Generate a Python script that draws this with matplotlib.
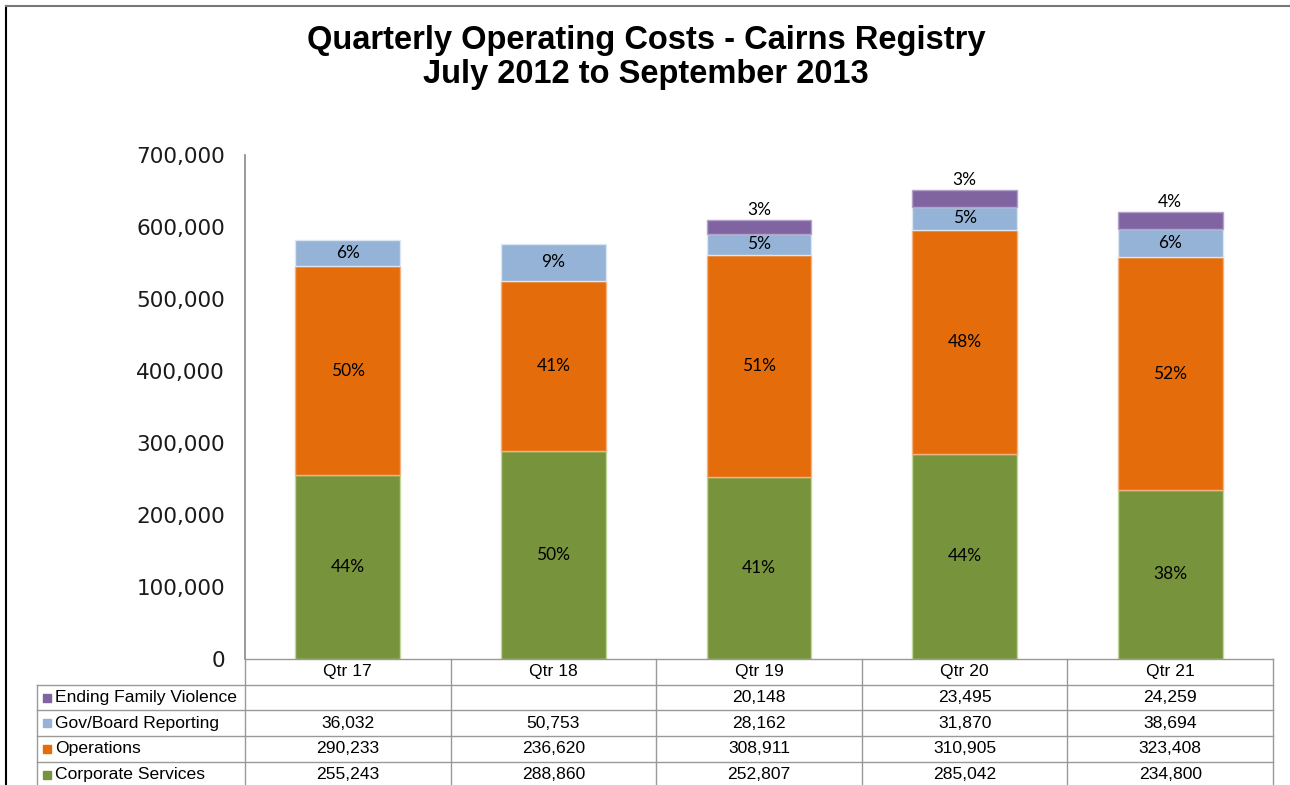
import matplotlib.pyplot as plt
import numpy as np
from matplotlib.lines import Line2D
from matplotlib.patches import Rectangle

# Data
quarters = ['Qtr 17', 'Qtr 18', 'Qtr 19', 'Qtr 20', 'Qtr 21']
series_names = ['Corporate Services', 'Operations', 'Gov/Board Reporting', 'Ending Family Violence']
corporate = [255243, 288860, 252807, 285042, 234800]
operations = [290233, 236620, 308911, 310905, 323408]
gov_board = [36032, 50753, 28162, 31870, 38694]
family_violence = [0, 0, 20148, 23495, 24259]

# Percentage labels as printed on the chart
pct_corporate = ['44%', '50%', '41%', '44%', '38%']
pct_operations = ['50%', '41%', '51%', '48%', '52%']
pct_gov = ['6%', '9%', '5%', '5%', '6%']
pct_fv = ['', '', '3%', '3%', '4%']

colors = ['#77933C', '#E46C0A', '#95B3D7', '#8064A2']
edges = ['#C3D69B', '#F4B183', '#DCE6F2', '#B3A2C7']

W, H = 1290, 785
fig = plt.figure(figsize=(W / 100, H / 100), dpi=100)

# Axes placed in pixel terms
ax_l, ax_r, ax_t, ax_b = 245, 1273, 155, 659
ax = fig.add_axes([ax_l / W, 1 - ax_b / H, (ax_r - ax_l) / W, (ax_b - ax_t) / H])

x = np.arange(len(quarters))
series = [corporate, operations, gov_board, family_violence]
bottom = np.zeros(len(quarters))
bars = []
for vals, c, e in zip(series, colors, edges):
    v = np.array(vals, dtype=float)
    ec = [e if val > 0 else 'none' for val in v]
    b = ax.bar(x, v, width=0.51, bottom=bottom, color=c, edgecolor=ec, linewidth=1, zorder=2)
    bars.append((b, bottom.copy(), v))
    bottom += v

lab_font = dict(family='Lato', fontsize=12.5, color='black', ha='center', va='center')
for (b, bot, v), labels in zip(bars[:3], [pct_corporate, pct_operations, pct_gov]):
    for i, lab in enumerate(labels):
        ax.text(x[i], bot[i] + v[i] / 2, lab, **lab_font)
b, bot, v = bars[3]
for i, lab in enumerate(pct_fv):
    if lab:
        ax.text(x[i], bot[i] + v[i] + 2500, lab, family='Lato', fontsize=12.5,
                ha='center', va='bottom')

ax.set_xlim(-0.5, len(quarters) - 0.5)
ax.set_ylim(0, 700000)
ax.set_yticks(np.arange(0, 700001, 100000))
ax.set_yticklabels([f'{v:,}' for v in range(0, 700001, 100000)],
                   fontsize=15.5, family='DejaVu Sans', color='#1a1a1a')
ax.tick_params(axis='y', length=0, pad=14.5)
ax.set_xticks([])
for s in ['top', 'right', 'bottom']:
    ax.spines[s].set_visible(False)
ax.spines['left'].set_color('#888888')
ax.spines['left'].set_linewidth(1.2)

# Data table below the chart (pixel coordinates)
def px(xp, yp):
    return xp / W, 1 - yp / H

gray = '#999999'
col_edges = np.linspace(ax_l, ax_r, len(quarters) + 1)
row_h = 25.7
tbl_top = ax_b
label_left = 37
n_rows = 1 + len(series_names)
row_edges = [tbl_top + i * row_h for i in range(n_rows + 1)]

def hline(x0, x1, y):
    fig.add_artist(Line2D([x0 / W, x1 / W], [1 - y / H, 1 - y / H], color=gray, lw=1))

def vline(xv, y0, y1):
    fig.add_artist(Line2D([xv / W, xv / W], [1 - y0 / H, 1 - y1 / H], color=gray, lw=1))

hline(ax_l, ax_r, row_edges[0])
for y in row_edges[1:]:
    hline(label_left, ax_r, y)
for xv in col_edges:
    vline(xv, row_edges[0], row_edges[-1])
vline(label_left, row_edges[1], row_edges[-1])

tfont = dict(family='Liberation Sans', fontsize=12.6, color='black')
for i, q in enumerate(quarters):
    cx = (col_edges[i] + col_edges[i + 1]) / 2
    fig.text(*px(cx, (row_edges[0] + row_edges[1]) / 2), q, ha='center', va='center', **tfont)

table_rows = list(zip(series_names, series, colors))[::-1]
for r, (name, vals, c) in enumerate(table_rows):
    yc = (row_edges[r + 1] + row_edges[r + 2]) / 2
    fig.add_artist(Rectangle(px(43, yc + 4), 8 / W, 8 / H, color=c))
    fig.text(*px(55, yc), name, ha='left', va='center', **tfont)
    for i, v in enumerate(vals):
        if v:
            cx = (col_edges[i] + col_edges[i + 1]) / 2
            fig.text(*px(cx, yc), f'{v:,}', ha='center', va='center', **tfont)

# Title
fig.text(*px(646, 40), 'Quarterly Operating Costs - Cairns Registry', ha='center', va='center',
         family='Liberation Sans', fontsize=23.5, fontweight='bold')
fig.text(*px(646, 74), 'July 2012 to September 2013', ha='center', va='center',
         family='Liberation Sans', fontsize=23.5, fontweight='bold')

# Outer chart border
fig.add_artist(Line2D([6 / W, 6 / W], [0, 1 - 6 / H], color='black', lw=1.5))
fig.add_artist(Line2D([6 / W, 1], [1 - 6 / H, 1 - 6 / H], color='#777777', lw=1.5))

fig.savefig('out.png', dpi=100)
